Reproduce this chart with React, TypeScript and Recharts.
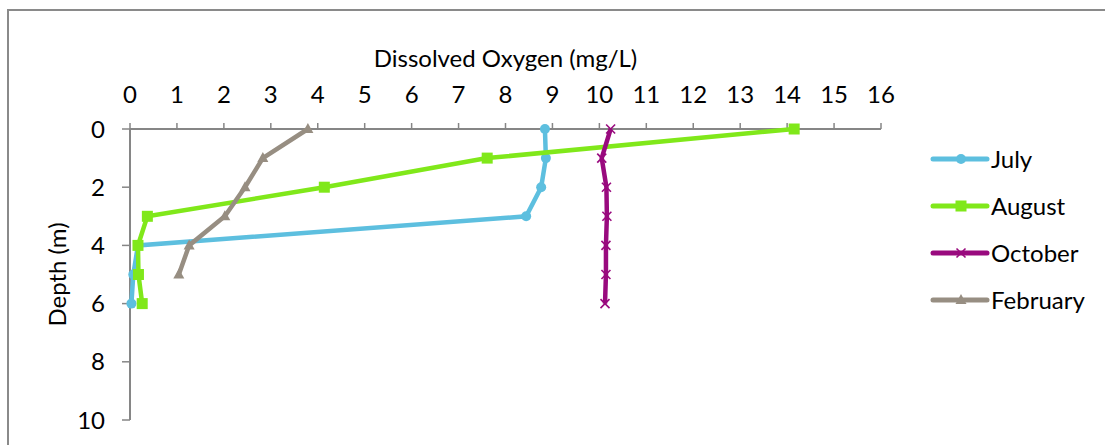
import React from 'react';
import { ScatterChart, Scatter, XAxis, YAxis, Label } from 'recharts';

const depths = [0, 1, 2, 3, 4, 5, 6];
const julyDO = [8.84, 8.86, 8.76, 8.44, 0.17, 0.07, 0.03];
const augustDO = [14.15, 7.61, 4.14, 0.37, 0.17, 0.18, 0.26];
const octoberDO = [10.24, 10.05, 10.15, 10.16, 10.14, 10.14, 10.12];
const februaryDO = [3.79, 2.83, 2.45, 2.02, 1.26, 1.04];

const xTicks = [0, 1, 2, 3, 4, 5, 6, 7, 8, 9, 10, 11, 12, 13, 14, 15, 16];
const yTicks = [0, 2, 4, 6, 8, 10];

const FONT = 'Lato, "Open Sans", sans-serif';
const FS = 24;
const AXIS = '#868686';

type Kind = 'circle' | 'square' | 'x' | 'triangle';

const series: { name: string; color: string; kind: Kind; values: number[] }[] = [
  { name: 'July', color: '#5DBFDF', kind: 'circle', values: julyDO },
  { name: 'August', color: '#80E81A', kind: 'square', values: augustDO },
  { name: 'October', color: '#990A7E', kind: 'x', values: octoberDO },
  { name: 'February', color: '#978E82', kind: 'triangle', values: februaryDO },
];

function Marker({ kind, cx, cy, color }: { kind: Kind; cx: number; cy: number; color: string }) {
  if (kind === 'circle') return <circle cx={cx} cy={cy} r={5} fill={color} />;
  if (kind === 'square') return <rect x={cx - 5.5} y={cy - 5.5} width={11} height={11} fill={color} />;
  if (kind === 'x')
    return (
      <g stroke={color} strokeWidth={1.6}>
        <line x1={cx - 4.5} y1={cy - 4.5} x2={cx + 4.5} y2={cy + 4.5} />
        <line x1={cx - 4.5} y1={cy + 4.5} x2={cx + 4.5} y2={cy - 4.5} />
      </g>
    );
  return <polygon points={`${cx},${cy - 6} ${cx + 5.5},${cy + 4} ${cx - 5.5},${cy + 4}`} fill={color} />;
}

function LegendBox() {
  return (
    <svg width={175} height={190} style={{ position: 'absolute', left: 925, top: 140, overflow: 'visible' }}>
      {series.map((s, i) => {
        const y = 19 + i * 47;
        return (
          <g key={s.name}>
            <line x1={8} x2={62} y1={y} y2={y} stroke={s.color} strokeWidth={5} strokeLinecap="round" />
            <Marker kind={s.kind} cx={36} cy={y} color={s.color} />
            <text x={66} y={y + 8.5} fontSize={FS} fontFamily={FONT} fill="#000">
              {s.name}
            </text>
          </g>
        );
      })}
    </svg>
  );
}

export default function App() {
  return (
    <div style={{ position: 'absolute', left: 0, top: 0, width: 1105, height: 445, overflow: 'hidden', background: '#fff' }}>
      <div
        style={{
          position: 'absolute',
          left: 7,
          top: 9,
          width: 1300,
          height: 600,
          borderLeft: '2px solid #8a8a8a',
          borderTop: '2px solid #8a8a8a',
        }}
      />
      <div style={{ position: 'absolute', left: 0, top: 0 }}>
        <ScatterChart width={1105} height={445} margin={{ top: 0, right: 224, bottom: 25, left: 0 }}>
          <XAxis
            type="number"
            dataKey="x"
            orientation="top"
            domain={[0, 16]}
            ticks={xTicks}
            interval={0}
            height={129}
            tickSize={6}
            tickMargin={20}
            axisLine={{ stroke: AXIS, strokeWidth: 2 }}
            tickLine={{ stroke: AXIS, strokeWidth: 1.5 }}
            tick={{ fill: '#000', fontSize: FS, fontFamily: FONT }}
          >
            <Label
              value="Dissolved Oxygen (mg/L)"
              position="insideTop"
              offset={50}
              style={{ fill: '#000', fontSize: FS, fontFamily: FONT }}
            />
          </XAxis>
          <YAxis
            type="number"
            dataKey="y"
            reversed
            domain={[0, 10]}
            ticks={yTicks}
            interval={0}
            width={130}
            tickSize={8}
            tickMargin={17}
            axisLine={{ stroke: AXIS, strokeWidth: 2 }}
            tickLine={{ stroke: AXIS, strokeWidth: 1.5 }}
            tick={{ fill: '#000', fontSize: FS, fontFamily: FONT }}
          >
            <Label
              content={(props: any) => {
                const vb = props.viewBox || { x: 0, y: 129, width: 130, height: 291 };
                const cy = vb.y + vb.height / 2;
                const cx = 66;
                return (
                  <text
                    x={cx}
                    y={cy}
                    transform={`rotate(-90, ${cx}, ${cy})`}
                    textAnchor="middle"
                    fontSize={FS}
                    fontFamily={FONT}
                    fill="#000"
                  >
                    Depth (m)
                  </text>
                );
              }}
            />
          </YAxis>
          {series.map((s) => (
            <Scatter
              key={s.name}
              name={s.name}
              data={s.values.map((v, i) => ({ x: v, y: depths[i] }))}
              fill={s.color}
              line={{ stroke: s.color, strokeWidth: 4.5 }}
              lineJointType="linear"
              isAnimationActive={false}
              shape={(p: any) => <Marker kind={s.kind} cx={p.cx} cy={p.cy} color={s.color} />}
            />
          ))}
        </ScatterChart>
      </div>
      <LegendBox />
    </div>
  );
}
